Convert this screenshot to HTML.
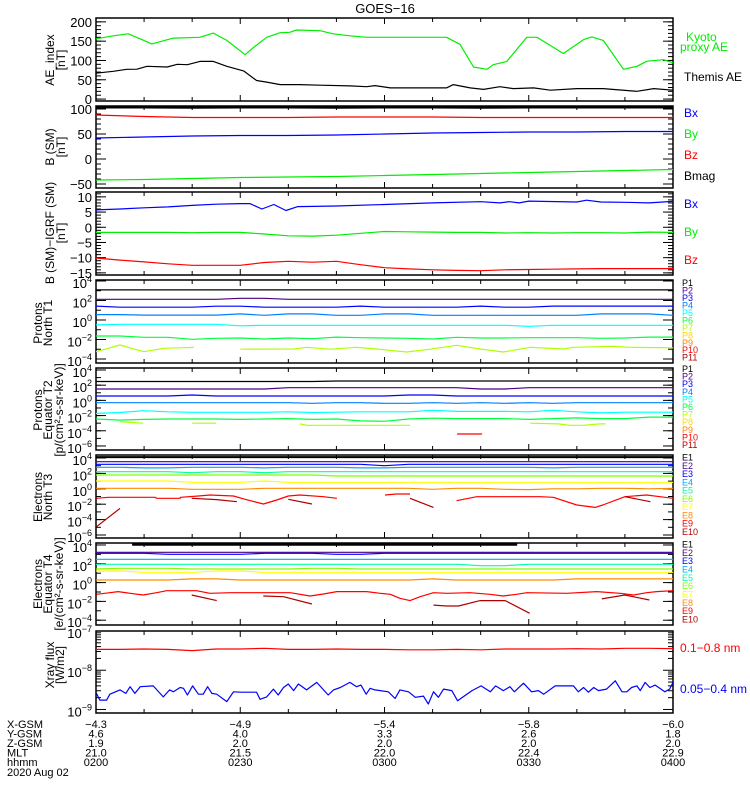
<!DOCTYPE html>
<html><head><meta charset="utf-8"><style>
html,body{margin:0;padding:0;background:#fff;}
svg{display:block;font-family:"Liberation Sans",sans-serif;}
</style></head><body>
<svg id="chart" width="750" height="800" viewBox="0 0 750 800" xmlns="http://www.w3.org/2000/svg">
<rect x="0" y="0" width="750" height="800" fill="#fff"/>
<text x="385" y="13" font-size="13" text-anchor="middle">GOES−16</text>
<g id="layer"></g>

<g font-size="12">
<text transform="rotate(-90 54 60)" x="54" y="60" text-anchor="middle">AE_index</text>
<text transform="rotate(-90 65 60)" x="65" y="60" text-anchor="middle">[nT]</text>
<text transform="rotate(-90 54 147)" x="54" y="147" text-anchor="middle">B (SM)</text>
<text transform="rotate(-90 65 147)" x="65" y="147" text-anchor="middle">[nT]</text>
<text transform="rotate(-90 54 233)" x="54" y="233" text-anchor="middle">B (SM)−IGRF (SM)</text>
<text transform="rotate(-90 65 233)" x="65" y="233" text-anchor="middle">[nT]</text>
<text transform="rotate(-90 42 323)" x="42" y="323" text-anchor="middle">Protons</text>
<text transform="rotate(-90 52 323)" x="52" y="323" text-anchor="middle">North T1</text>
<text transform="rotate(-90 42 410)" x="42" y="410" text-anchor="middle">Protons</text>
<text transform="rotate(-90 52 410)" x="52" y="410" text-anchor="middle">Equator T2</text>
<text transform="rotate(-90 63 410)" x="63" y="410" text-anchor="middle">[p/(cm²-s-sr-keV)]</text>
<text transform="rotate(-90 42 497)" x="42" y="497" text-anchor="middle">Electrons</text>
<text transform="rotate(-90 52 497)" x="52" y="497" text-anchor="middle">North T3</text>
<text transform="rotate(-90 42 584)" x="42" y="584" text-anchor="middle">Electrons</text>
<text transform="rotate(-90 52 584)" x="52" y="584" text-anchor="middle">Equator T4</text>
<text transform="rotate(-90 63 584)" x="63" y="584" text-anchor="middle">[e/(cm²-s-sr-keV)]</text>
<text transform="rotate(-90 54 665)" x="54" y="665" text-anchor="middle">Xray flux</text>
<text transform="rotate(-90 64 665)" x="64" y="665" text-anchor="middle">[W/m2]</text>
</g>

<g font-size="12">
<text x="686" y="41" fill="#00ee00">Kyoto</text>
<text x="680" y="51" fill="#00ee00">proxy AE</text>
<text x="684" y="81" fill="#000">Themis AE</text>
<text x="684" y="117" fill="#0000ff">Bx</text>
<text x="684" y="138" fill="#00ee00">By</text>
<text x="684" y="159" fill="#ff0000">Bz</text>
<text x="684" y="180" fill="#000">Bmag</text>
<text x="684" y="208" fill="#0000ff">Bx</text>
<text x="684" y="236" fill="#00ee00">By</text>
<text x="684" y="264" fill="#ff0000">Bz</text>
<text x="680" y="652" fill="#ff0000">0.1−0.8 nm</text>
<text x="680" y="693" fill="#0000ff">0.05−0.4 nm</text>
</g>
<g id="chanlegend" font-size="9"></g>

<g font-size="11">
<text x="7" y="728">X-GSM</text>
<text x="7" y="737.5">Y-GSM</text>
<text x="7" y="747">Z-GSM</text>
<text x="7" y="756.5">MLT</text>
<text x="7" y="766">hhmm</text>
<text x="7" y="776">2020 Aug 02</text>
</g>
<g id="orbit" font-size="11" text-anchor="middle"></g>

<script>
// ---- data (time in minutes after 02:00 UT) ----
const kyotoT = [0,3.6,6.7,9.2,11.6,16.1,21.6,24.4,27.2,31.0,32.7,35.5,38.3,40.3,41.7,46.6,49.3,52.8,56.3,58,72.9,75.7,78.5,81.3,82.6,85.4,89.6,91.7,97.2,101.4,103.1,105.5,109.7,112.5,114.6,118,120];
const kyotoAE = [156,164,169,156,143,158,160,171,152,115,133,160,172,173,179,177,169,164,160,160,160,142,83,77,89,97,160,160,118,154,161,152,77,85,98,102,94];
const themisT = [0,3.6,6.4,8.5,10.6,14.8,16.9,19.0,21.6,24.4,27.2,30.7,33.4,35.5,38.3,42.4,46.6,52.8,56.3,58,61.2,72.9,74.3,77.8,80.6,84.0,86.8,91.0,94.5,100,105.5,112.5,116,120];
const themisAE = [67,72,77,77.5,85,83,90,89,97.5,97.5,85,73,48,44,37.5,37.5,36,34,32,35,29,29,37.5,29,25,32,27,29,23,27,27,20,27,23];

const t10 = [0,10,20,30,40,50,60,70,80,90,100,110,120];
const bSmMag = [103.5,103.5,103,103.5,103.5,103,103.5,103.5,103,103.5,103.5,103.5,103.5];
const bSmX = [42,44,46,47,47,48,50,52,53,54,54,55,55];
const bSmY = [-42,-41,-39,-37,-36,-35,-33,-31,-29,-27,-25,-23,-21];
const bSmZ = [88,85,83,83,83,84,84,84,83,83,83,83,83];

const t5 = [0,5,10,15,20,25,30,35,40,45,50,55,60,65,70,75,80,85,90,95,100,105,110,115,120];
const dBxT = [0,5,10,15,20,25,30,32,34.5,37,39.5,42,50,60,70,80,84,86,88,90,100,102,105,110,115,120];
const dBx = [5.7,6.0,6.4,6.7,7.2,7.6,7.8,7.8,6.0,7.5,5.5,6.8,7.0,7.5,8.0,8.4,8.0,8.4,8.0,8.6,8.3,8.9,8.3,8.2,8.0,8.5];
const dBy = [-1.7,-1.7,-1.7,-1.7,-1.8,-1.7,-1.7,-2.2,-2.8,-2.9,-2.6,-2.0,-1.4,-1.5,-1.6,-1.7,-1.7,-1.9,-1.8,-1.9,-1.8,-1.8,-1.9,-1.6,-1.7];
const dBz = [-10.1,-10.8,-11.4,-12.0,-12.5,-12.5,-12.5,-11.6,-11.2,-11.5,-11.2,-12.3,-13.3,-13.7,-14.0,-14.2,-14.3,-14.0,-13.9,-13.8,-13.7,-13.6,-13.6,-13.6,-13.6];

// log10 fluxes, Protons North T1
const pT1P1 = [3.08,3.08,3.08,3.08,3.08,3.08,3.08,3.08,3.08,3.08,3.08,3.08,3.08,3.08,3.08,3.08,3.08,3.08,3.08,3.08,3.08,3.08,3.08,3.08,3.08];
const pT1P2 = [2.12,2.12,2.12,2.12,2.12,2.12,2.22,2.22,2.12,2.12,2.12,2.12,2.12,2.12,2.12,2.12,2.12,2.12,2.12,2.12,2.12,2.12,2.12,2.12,2.12];
const pT1P3 = [1.42,1.31,1.31,1.31,1.31,1.41,1.41,1.31,1.31,1.31,1.31,1.42,1.31,1.31,1.31,1.31,1.42,1.31,1.31,1.42,1.42,1.42,1.42,1.42,1.42];
const pT1P4 = [0.55,0.55,0.5,0.5,0.5,0.5,0.62,0.48,0.62,0.62,0.48,0.48,0.62,0.62,0.48,0.48,0.48,0.48,0.48,0.48,0.48,0.62,0.62,0.62,0.48];
const pT1P5 = [-0.5,-0.44,-0.44,-0.44,-0.44,-0.44,-0.6,-0.54,-0.54,-0.54,-0.54,-0.54,-0.54,-0.54,-0.54,-0.54,-0.54,-0.54,-0.65,-0.54,-0.54,-0.54,-0.54,-0.54,-0.54];
const pT1P6 = [-1.64,-1.64,-1.78,-1.78,-1.98,-1.88,-1.85,-1.95,-1.85,-1.92,-1.75,-1.82,-1.85,-1.88,-1.95,-1.78,-1.85,-1.85,-1.82,-1.82,-1.82,-1.88,-1.85,-1.75,-1.75];
const pT1P7T = [0,5,9.9,14.1,20.4,25,30,41.1,43.8,48.7,54.2,58.4,64.6,69.5,75,79.2,84.7,90.3,97.2,99.3,107.6,111.1,120];
const pT1P7 = [-3.25,-2.56,-3.25,-2.9,-2.8,null,-3.0,-2.97,-2.8,-3.0,-2.8,-2.97,-3.28,-3.0,-2.6,-2.92,-3.28,-2.8,-2.97,-2.8,-2.7,-2.8,-2.85];

// Protons Equator T2
const pT2P1 = [2.49,2.49,2.49,2.49,2.49,2.49,2.49,2.49,2.49,2.49,2.55,2.55,2.55,2.55,2.55,2.55,2.55,2.55,2.55,2.55,2.55,2.55,2.55,2.55,2.55];
const pT2P2 = [1.5,1.5,1.5,1.5,1.5,1.5,1.5,1.5,1.67,1.67,1.67,1.67,1.67,1.67,1.67,1.67,1.5,1.5,1.67,1.67,1.67,1.67,1.67,1.67,1.67];
const pT2P3 = [0.58,0.58,0.58,0.58,0.71,0.58,0.58,0.58,0.58,0.58,0.58,0.58,0.58,0.71,0.71,0.58,0.58,0.58,0.58,0.58,0.58,0.58,0.58,0.58,0.58];
const pT2P4 = [-0.3,-0.3,-0.3,-0.3,-0.3,-0.3,-0.3,-0.3,-0.3,-0.38,-0.3,-0.3,-0.38,-0.38,-0.3,-0.38,-0.3,-0.38,-0.3,-0.38,-0.3,-0.3,-0.3,-0.3,-0.3];
const pT2P5 = [-1.72,-1.6,-1.36,-1.5,-1.57,-1.57,-1.57,-1.57,-1.5,-1.6,-1.55,-1.5,-1.5,-1.5,-1.3,-1.45,-1.45,-1.45,-1.5,-1.3,-1.5,-1.65,-1.55,-1.55,-1.55];
const pT2P6 = [-2.45,-2.6,-2.5,-2.45,-2.45,-2.45,-2.5,-2.45,-2.4,-2.5,-2.45,-2.7,-2.75,-2.45,-2.35,-2.4,-2.4,-2.4,-2.5,-2.4,-2.3,-2.4,-2.4,-2.2,-2.2];
const pT2P7T = [5,9.8,9.9,20,25,25.1,42.4,43.9,65.3,65.4,90.3,96.1,98.6,101.4,104.8,106];
const pT2P7 = [-2.8,-3.0,null,-3.0,-3.0,null,-3.1,-3.28,-3.28,null,-3.0,-3.1,-3.28,-3.28,-3.1,-3.1];
const pT2P10T = [75.1,80.3];
const pT2P10 = [-4.42,-4.42];

// Electrons North T3
const eT3E1 = [4.12,4.12,4.12,4.12,4.12,4.12,4.12,4.12,4.12,4.12,4.12,4.12,4.12,4.12,4.12,4.12,4.12,4.12,4.12,4.12,4.12,4.12,4.12,4.12,4.12];
const eT3E2 = [3.52,3.52,3.52,3.52,3.52,3.52,3.52,3.52,3.52,3.52,3.52,3.52,3.52,3.52,3.52,3.52,3.52,3.52,3.52,3.52,3.52,3.52,3.52,3.52,3.52];
const eT3E3 = [3.18,3.18,3.18,3.18,3.18,3.18,3.18,3.18,3.18,3.18,3.18,3.18,3.0,3.18,3.18,3.18,3.18,3.18,3.18,3.18,3.18,3.18,3.18,3.18,3.18];
const eT3E4 = [2.79,2.79,2.72,2.72,2.79,2.79,2.79,2.72,2.79,2.79,2.79,2.72,2.72,2.79,2.79,2.79,2.79,2.79,2.79,2.72,2.79,2.79,2.79,2.79,2.79];
const eT3E5 = [2.22,2.22,2.22,2.22,2.09,2.22,2.22,2.09,2.22,2.22,2.22,2.22,2.22,2.22,2.22,2.22,2.22,2.22,2.22,2.22,2.22,2.22,2.22,2.22,2.22];
const eT3E6 = [1.79,1.79,1.79,1.79,1.79,1.79,1.79,1.79,1.79,1.79,1.66,1.66,1.66,1.66,1.66,1.66,1.66,1.66,1.66,1.66,1.66,1.66,1.66,1.66,1.66];
const eT3E7 = [1.01,1.01,1.01,1.01,0.84,0.84,0.84,1.01,0.84,0.84,0.84,0.84,0.84,0.84,0.84,0.84,0.84,0.84,0.84,0.84,0.84,0.84,0.84,0.84,0.84];
const eT3E8 = [0.06,0.06,0.06,0.06,-0.06,-0.06,-0.06,0.06,0.06,0.06,0.06,0.06,0.06,0.06,-0.06,0.06,0.06,-0.06,-0.1,0.0,0.0,0.06,0.06,0.0,0.06];
const eT3E9T = [0.1,2.6,12.3,12.6,17.5,17.6,21.3,23.7,28.6,31.0,34.8,37.6,40.0,42.4,47.3,50.1,50.2,60.1,62.5,65.3,65.4,75.0,79.2,92.4,95.1,100,103.8,105.4,110,114.5,117.3,120];
const eT3E9 = [-1.24,-1.11,-1.11,-1.24,-1.24,-1.11,-0.94,-0.81,-0.94,-1.37,-1.97,-1.45,-0.94,-0.81,-1.02,-1.24,null,-0.81,-0.68,-0.68,null,-1.54,-1.02,-1.02,-1.11,-2.10,-2.41,-2.10,-1.02,-0.81,-1.02,-1.24];
const eT3E10T = [0.1,5.0,5.1,19.9,25.1,29.3,29.4,40.0,44.9,45,65.3,70.2,70.3,110,115.3];
const eT3E10 = [-4.92,-2.54,null,-1.24,-1.4,-1.67,null,-1.37,-1.97,null,-1.24,-2.41,null,-1.02,-1.67];

// Electrons Equator T4
const eT4E1T = [7.5,87.6];
const eT4E1 = [4.05,4.05];
const eT4E2 = [3.22,3.22,3.22,3.22,3.22,3.22,3.22,3.22,3.22,3.22,3.22,3.22,3.22,3.22,3.22,3.22,3.22,3.22,3.22,3.22,3.22,3.22,3.22,3.22,3.22];
const eT4E3 = [3.12,3.12,3.12,3.01,3.01,3.01,3.01,3.12,3.12,3.12,3.01,3.01,3.12,3.12,3.12,3.12,3.12,3.12,3.12,3.12,3.12,3.12,3.12,3.12,3.12];
const eT4E4 = [2.48,2.48,2.48,2.48,2.48,2.48,2.48,2.48,2.48,2.48,2.48,2.48,2.48,2.48,2.48,2.48,2.48,2.48,2.48,2.48,2.48,2.48,2.48,2.48,2.48];
const eT4E5 = [1.95,1.95,1.95,1.95,1.95,1.95,1.95,1.95,1.95,1.95,1.95,1.95,1.95,1.95,1.95,1.95,1.8,1.8,1.95,1.95,1.95,1.95,1.95,1.95,1.95];
const eT4E6 = [1.45,1.52,1.52,1.52,1.45,1.45,1.45,1.45,1.45,1.52,1.52,1.45,1.45,1.45,1.45,1.45,1.45,1.45,1.45,1.45,1.45,1.45,1.45,1.45,1.45];
const eT4E7 = [1.23,1.23,1.09,1.09,1.09,1.23,1.23,1.09,1.09,1.09,1.09,1.09,1.09,1.09,1.09,1.09,1.09,1.09,1.09,1.09,1.09,1.09,1.09,1.09,1.09];
const eT4E8 = [0.28,0.28,0.28,0.28,0.39,0.39,0.28,0.28,0.28,0.28,0.28,0.28,0.28,0.28,0.39,0.28,0.28,0.28,0.28,0.28,0.39,0.39,0.39,0.39,0.39];
const eT4E9T = [0.1,2.9,4.6,7.1,9.8,12.6,14.7,20.9,23.7,28,34.8,40.4,44.5,47.3,50.1,56.3,59.1,61.2,63.2,65.3,67.4,70.2,73,77.8,81.9,84.7,87.5,89.6,97.9,104.2,109,111.8,114.5,116.6,120];
const eT4E9 = [-1.25,-1.07,-0.96,-1.14,-1.32,-1.07,-0.86,-0.86,-1.14,-1.07,-1.07,-1.07,-1.43,-1.21,-0.96,-0.96,-1.14,-1.25,-1.67,-1.92,-1.5,-1.07,-1.14,-1.07,-1.25,-1.43,-1.25,-1.07,-1.14,-0.96,-1.14,-1.32,-1.07,-0.96,-0.86];
const eT4E10T = [19.9,25.1,25.2,34.8,39,44.9,45,70.2,73,75.4,79.9,85.1,90.2,90.3,105.2,110,115.1];
const eT4E10 = [-1.32,-1.92,null,-1.43,-1.5,-2.28,null,-2.39,-2.49,-2.49,-1.92,-1.92,-3.27,null,-1.73,-1.32,-1.85];

// X-ray (log10 W/m2)
const xrayLongLog = [-7.47,-7.47,-7.46,-7.47,-7.5,-7.46,-7.46,-7.44,-7.47,-7.47,-7.46,-7.47,-7.47,-7.48,-7.48,-7.47,-7.48,-7.46,-7.46,-7.46,-7.45,-7.46,-7.44,-7.44,-7.45];
const xrayShortT = [0.1,0.8,2.2,2.9,5.0,6.2,7.1,8.1,9.2,11.9,14.0,15.3,16.1,17.5,18.2,19.0,20.1,21.3,22.3,23.2,24.1,25.1,27.2,28.6,30.0,33.4,34.1,35.5,36.9,37.9,39.0,40.0,41.1,42.1,43.8,45.9,48.3,49.4,50.8,52.8,54.2,55.1,56.2,57.0,58.0,60.8,62.2,63.2,65.0,66.4,68.1,69.1,70.2,71.2,72.3,74.0,75.2,78.2,80.1,82.0,83.1,84.7,86.1,87.0,88.9,90.6,92.0,93.1,95.5,99.3,100.3,101.4,102.4,103.5,104.5,106.2,108.0,109.4,110.4,111.4,112.5,113.2,114.2,115.2,116.3,118.3,119.3,120];
const xrayShortLog = [-8.59,-8.76,-8.76,-8.61,-8.50,-8.59,-8.42,-8.59,-8.42,-8.40,-8.68,-8.50,-8.55,-8.44,-8.46,-8.63,-8.40,-8.61,-8.61,-8.42,-8.59,-8.61,-8.80,-8.55,-8.56,-8.56,-8.74,-8.68,-8.48,-8.63,-8.44,-8.35,-8.52,-8.35,-8.50,-8.31,-8.63,-8.50,-8.44,-8.31,-8.42,-8.38,-8.61,-8.46,-8.50,-8.55,-8.72,-8.50,-8.55,-8.69,-8.66,-8.86,-8.55,-8.69,-8.48,-8.52,-8.78,-8.52,-8.40,-8.55,-8.40,-8.52,-8.42,-8.55,-8.33,-8.55,-8.52,-8.61,-8.40,-8.40,-8.55,-8.44,-8.56,-8.44,-8.52,-8.48,-8.27,-8.55,-8.55,-8.44,-8.40,-8.52,-8.31,-8.44,-8.38,-8.55,-8.48,-8.31];

// axis labels
const orbitX = ["−4.3","−4.9","−5.4","−5.8","−6.0"];
const orbitY = ["4.6","4.0","3.3","2.6","1.8"];
const orbitZ = ["1.9","2.0","2.0","2.0","2.0"];
const orbitMLT = ["21.0","21.5","22.0","22.4","22.9"];
const hhmm = ["0200","0230","0300","0330","0400"];
const protonChannels = ["P1","P2","P3","P4","P5","P6","P7","P8","P9","P10","P11"];
const electronChannels = ["E1","E2","E3","E4","E5","E6","E7","E8","E9","E10"];

// ---- drawing ----
const NS = "http://www.w3.org/2000/svg";
const layer = document.getElementById('layer');
const X0 = 96, X1 = 673, TMAX = 120;
const xs = m => X0 + m / TMAX * (X1 - X0);
const PC = ["#000000","#4b0082","#0000ff","#0080ff","#00ffff","#00ff40","#b0ff00","#ffd800","#ff8000","#ff0000","#b00000"];
const EC = ["#000000","#4b0082","#0000ff","#00a8ff","#00ffa0","#80ff00","#ffff00","#ff8c00","#ff0000","#b00000"];
const GREEN = "#00ee00";

const panels = [
 {top:18,bot:101,d0:-5,d1:210,name:'ae-panel',log:false,major:[0,50,100,150,200],minorStep:10},
 {top:106,bot:188,d0:-58,d1:106,name:'b-sm-panel',log:false,major:[100,50,0,-50],minorStep:10},
 {top:192,bot:275,d0:-15.7,d1:11.6,name:'b-igrf-panel',log:false,major:[10,5,0,-5,-10,-15],minorStep:1},
 {top:280,bot:363,d0:-4.41,d1:4.1,name:'protons-t1-panel',log:true,major:[4,2,0,-2,-4]},
 {top:368,bot:450,d0:-6.53,d1:4.26,name:'protons-t2-panel',log:true,major:[4,2,0,-2,-4,-6]},
 {top:455,bot:538,d0:-6.39,d1:4.39,name:'electrons-t3-panel',log:true,major:[4,2,0,-2,-4,-6]},
 {top:543,bot:625,d0:-4.51,d1:4.21,name:'electrons-t4-panel',log:true,major:[4,2,0,-2,-4]},
 {top:631,bot:713,d0:-9.09,d1:-7,name:'xray-panel',log:true,major:[-7,-8,-9],xray:true}
];
const ys = (p, v) => p.bot - (v - p.d0) / (p.d1 - p.d0) * (p.bot - p.top);

function mk(tag, attrs, parent) {
  const el = document.createElementNS(NS, tag);
  for (const k in attrs) el.setAttribute(k, attrs[k]);
  (parent || layer).appendChild(el);
  return el;
}
function ln(x1,y1,x2,y2,parent){
  const l = mk('line',{x1:x1,y1:y1,x2:x2,y2:y2,stroke:'#000','stroke-width':1},parent);
  
  
  return l;
}

const defs = mk('defs', {});
panels.forEach((p, i) => {
  const cp = mk('clipPath', {id: 'clip' + i}, defs);
  mk('rect', {x: X0, y: p.top, width: X1 - X0, height: p.bot - p.top}, cp);
});

function series(pi, times, vals, color, name, width) {
  const p = panels[pi];
  let segs = [], cur = [];
  for (let i = 0; i < times.length; i++) {
    if (vals[i] === null || vals[i] === undefined) { if (cur.length) segs.push(cur); cur = []; continue; }
    cur.push(xs(times[i]).toFixed(1) + ',' + ys(p, vals[i]).toFixed(1));
  }
  if (cur.length) segs.push(cur);
  const g = mk('g', {'clip-path': 'url(#clip' + pi + ')'});
  
  
  segs.forEach(s => {
    const pl = mk('polyline', {points: s.join(' '), fill: 'none', stroke: color, 'stroke-width': width || 1.2, 'stroke-linejoin': 'round'}, g);
    
    
  });
}

// frames, ticks, labels
panels.forEach((p, i) => {
  const g = mk('g', {});
  
  
  const fr = mk('rect', {x: X0, y: p.top, width: X1 - X0, height: p.bot - p.top, fill: 'none', stroke: '#000', 'stroke-width': 1.5}, g);
  
  
  for (let m = 0; m <= TMAX; m += 10) {
    const L = (m % 30 === 0) ? 6 : 4, x = xs(m);
    ln(x, p.bot, x, p.bot - L, g); ln(x, p.top, x, p.top + L, g);
  }
  const majors = p.major.map(v => v);
  let minors = [];
  if (!p.log) {
    for (let v = Math.ceil(p.d0 / p.minorStep) * p.minorStep; v <= p.d1; v += p.minorStep) minors.push(v);
  } else if (p.xray) {
    [-9, -8].forEach(d => { for (let k = 2; k <= 9; k++) minors.push(d + Math.log10(k)); });
  } else {
    for (let v = Math.ceil(p.d0); v <= p.d1; v++) minors.push(v);
  }
  minors.forEach(v => { const y = ys(p, v); ln(X0, y, X0 + 5, y, g); ln(X1, y, X1 - 5, y, g); });
  majors.forEach(v => {
    const y = ys(p, v);
    ln(X0, y, X0 + 10, y, g); ln(X1, y, X1 - 10, y, g);
    const t = mk('text', {x: 92, y: y + 5, 'text-anchor': 'end', 'font-size': 13}, g);
    
    
    if (p.log) {
      const a = document.createElementNS(NS, 'tspan'); a.textContent = '10'; t.appendChild(a);
      const b = document.createElementNS(NS, 'tspan'); b.setAttribute('dy', -6); b.setAttribute('font-size', 9);
      b.textContent = String(v).replace('-', '−'); t.appendChild(b);
      t.setAttribute('x', 92); t.setAttribute('y', y + 7);
    } else {
      t.textContent = String(v).replace('-', '−');
    }
  });
});

// series
series(0, kyotoT, kyotoAE, GREEN, 'kyoto-ae-series');
series(0, themisT, themisAE, '#000', 'themis-ae-series');
series(1, t10, bSmMag, '#000', 'bmag-series', 2.5);
series(1, t10, bSmZ, '#ff0000', 'bz-series');
series(1, t10, bSmX, '#0000ff', 'bx-series');
series(1, t10, bSmY, GREEN, 'by-series');
series(2, dBxT, dBx, '#0000ff', 'dbx-series');
series(2, t5, dBy, GREEN, 'dby-series');
series(2, t5, dBz, '#ff0000', 'dbz-series');

[pT1P1, pT1P2, pT1P3, pT1P4, pT1P5, pT1P6].forEach((s, k) => series(3, t5, s, PC[k], 'protons-t1-p' + (k + 1)));
series(3, pT1P7T, pT1P7, PC[6], 'protons-t1-p7');
[pT2P1, pT2P2, pT2P3, pT2P4, pT2P5, pT2P6].forEach((s, k) => series(4, t5, s, PC[k], 'protons-t2-p' + (k + 1)));
series(4, pT2P7T, pT2P7, PC[6], 'protons-t2-p7');
series(4, pT2P10T, pT2P10, PC[9], 'protons-t2-p10');
series(5, t5, eT3E1, EC[0], 'electrons-t3-e1', 2);
[eT3E2, eT3E3, eT3E4, eT3E5, eT3E6, eT3E7, eT3E8].forEach((s, k) => series(5, t5, s, EC[k + 1], 'electrons-t3-e' + (k + 2)));
series(5, eT3E9T, eT3E9, EC[8], 'electrons-t3-e9');
series(5, eT3E10T, eT3E10, EC[9], 'electrons-t3-e10');
series(6, eT4E1T, eT4E1, EC[0], 'electrons-t4-e1', 2.5);
[eT4E2, eT4E3, eT4E4, eT4E5, eT4E6, eT4E7, eT4E8].forEach((s, k) => series(6, t5, s, EC[k + 1], 'electrons-t4-e' + (k + 2)));
series(6, eT4E9T, eT4E9, EC[8], 'electrons-t4-e9');
series(6, eT4E10T, eT4E10, EC[9], 'electrons-t4-e10');
series(7, t5, xrayLongLog, '#ff0000', 'xray-long-series');
series(7, xrayShortT, xrayShortLog, '#0000ff', 'xray-short-series');

// channel legends
const cl = document.getElementById('chanlegend');
function chanLegend(labels, colors, y0, step, nm) {
  labels.forEach((s, k) => {
    const t = mk('text', {x: 682, y: y0 + k * step + 3, fill: colors[k]}, cl);
    
    
    t.textContent = s;
  });
}
chanLegend(protonChannels, PC, 283, 7.47, 'protons-t1');
chanLegend(protonChannels, PC, 369, 7.6, 'protons-t2');
chanLegend(electronChannels, EC, 457.5, 8.27, 'electrons-t3');
chanLegend(electronChannels, EC, 544.5, 8.33, 'electrons-t4');

// orbit table
const og = document.getElementById('orbit');
const rows = [[orbitX, 728], [orbitY, 737.5], [orbitZ, 747], [orbitMLT, 756.5], [hhmm, 766]];
rows.forEach(([arr, y], r) => {
  arr.forEach((s, k) => {
    const t = mk('text', {x: xs(k * 30), y: y}, og);
    
    
    t.textContent = s;
  });
});
</script>
</svg>
</body></html>
